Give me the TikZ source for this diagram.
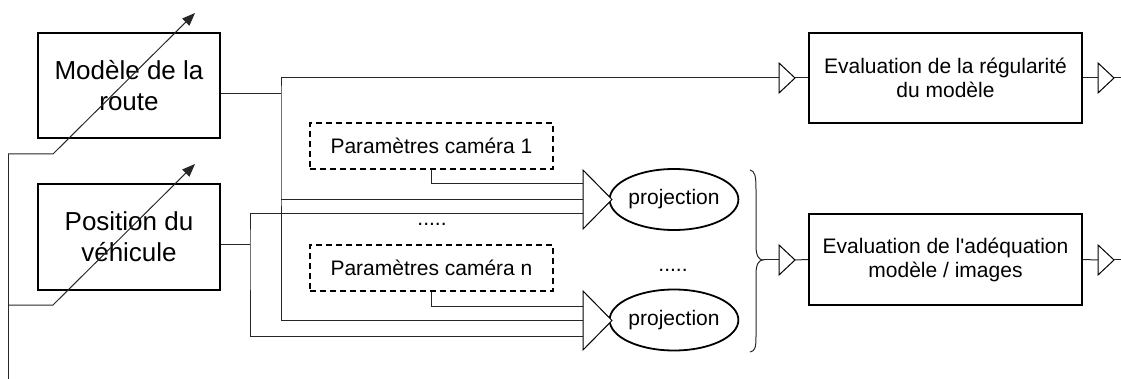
\documentclass[tikz,border=0pt]{standalone}
\usepackage{fontspec}
\setmainfont{Liberation Sans}[Ligatures=TeXOff]
\usetikzlibrary{shapes.geometric,arrows.meta,calc}
\newcommand\mybig{\fontsize{26}{31}\selectfont}
\newcommand\mysmall{\fontsize{21}{24}\selectfont}
% \mytri{name}{x of base}{y of centre}{length}{half base}
\newcommand\mytri[5]{%
  \coordinate (#1-b) at (#2,#3);
  \coordinate (#1-a) at ($(#1-b)+(#4,0)$);
  \draw[line width=1pt, fill=white] ($(#1-b)+(0,-#5)$) -- (#1-a) -- ($(#1-b)+(0,#5)$) -- cycle;
}
\begin{document}
\begin{tikzpicture}[x=1pt,y=-1pt,
  thin line/.style={line width=1pt, draw=black!85},
  bigbox/.style={draw, line width=2.2pt, rectangle, inner sep=0pt, align=center, font=\mybig},
  evalbox/.style={draw, line width=2.2pt, rectangle, inner sep=0pt, align=center, font=\mysmall,
     minimum width=273pt, minimum height=90pt},
  dashbox/.style={draw, line width=2pt, dash pattern=on 6pt off 4pt, rectangle, inner sep=0pt,
     font=\mysmall, minimum width=243pt, minimum height=46pt},
  projell/.style={draw, line width=1.8pt, ellipse, inner sep=0pt, font=\mysmall,
     minimum width=122pt, minimum height=61pt},
  vararrow/.style={thin line, -{Triangle[length=13pt,width=10pt]}},
  dots/.style={font=\mysmall, inner sep=0pt}
]
\useasboundingbox (0,0) rectangle (1121,379);

% left boxes
\node[bigbox, minimum width=182pt, minimum height=105pt] (m) at (129,85.5) {Modèle de la\\route};
\node[bigbox, minimum width=182pt, minimum height=106pt] (p) at (129,237) {Position du\\véhicule};

% camera parameters
\node[dashbox] (c1) at (431.5,146) {Paramètres caméra 1};
\node[dashbox] (cn) at (431.5,268) {Paramètres caméra n};
\node[dots] (d1) at (432,224) {.....};
\node[dots] (d2) at (673,270) {.....};

% projections
\node[projell] (e1) at (674,199.5) {projection};
\node[projell] (e2) at (674,320) {projection};

% evaluation boxes
\node[evalbox] (r) at (945.5,78) {Evaluation de la régularité\\du modèle};
\node[evalbox, minimum height=91pt] (a) at (945.5,259.5) {Evaluation de l'adéquation\\modèle / images};
\coordinate (o1) at (1121,78);
\coordinate (o2) at (1121,260);

% brace
\coordinate (bt) at (763,260);
\draw[thin line] (750,170) .. controls (755,171) and (756,176) .. (756,190) -- (756,246)
   .. controls (756,256) and (759,260) .. (bt)
   .. controls (759,260) and (756,264) .. (756,274) -- (756,336)
   .. controls (756,348) and (755,351) .. (750,352);

% junctions
\coordinate (j1) at (281,94);
\coordinate (j2) at (250,245);
\coordinate (T1b) at (583,199.5);
\coordinate (T2b) at (583,320.5);
\coordinate (q1) at (583,184);
\coordinate (q2) at (583,214);
\coordinate (q3) at (583,306);
\coordinate (q4) at (583,336);
\coordinate (S1b) at (779,78);

\draw[thin line] ([yshift=-8.5pt]m.east) -- (j1);
\draw[thin line] (S1b) -| (j1) |- (T2b);
\draw[thin line] (j1 |- T1b) -- (T1b);
\draw[thin line] ([yshift=-8pt]p.east) -- (j2);
\draw[thin line] (q2) -| (j2) |- (q4);
\draw[thin line] (c1.south) |- (q1);
\draw[thin line] (cn.south) |- (q3);

% triangles
\mytri{T1}{583}{199.5}{29}{29.5}
\mytri{T2}{583}{320.5}{29}{29.5}
\mytri{S1}{779}{78}{16}{15}
\mytri{S2}{1098}{78}{16}{15}
\mytri{S3}{779}{260}{16}{15}
\mytri{S4}{1098}{260}{16}{15}

% outputs
\draw[thin line] (S1-a) -- (r.west);
\draw[thin line] (r.east) -- (S2-b);
\draw[thin line] (S2-a) -- (o1);
\draw[thin line] (bt) -- (S3-b);
\draw[thin line] (S3-a) -- (a.west);
\draw[thin line] (a.east) -- (S4-b);
\draw[thin line] (S4-a) -- (o2);

% variable arrows
\coordinate (v0) at (8,379);
\coordinate (v1) at (8,154);
\coordinate (v2) at (53,154);
\coordinate (v3) at (195,13);
\coordinate (w1) at (8,305);
\coordinate (w2) at (53,305);
\coordinate (w3) at (195,164);
\draw[thin line] (v0) -- (v1);
\draw[vararrow] (v1) -- (v2) -- (v3);
\draw[vararrow] (w1) -- (w2) -- (w3);
\end{tikzpicture}
\end{document}
